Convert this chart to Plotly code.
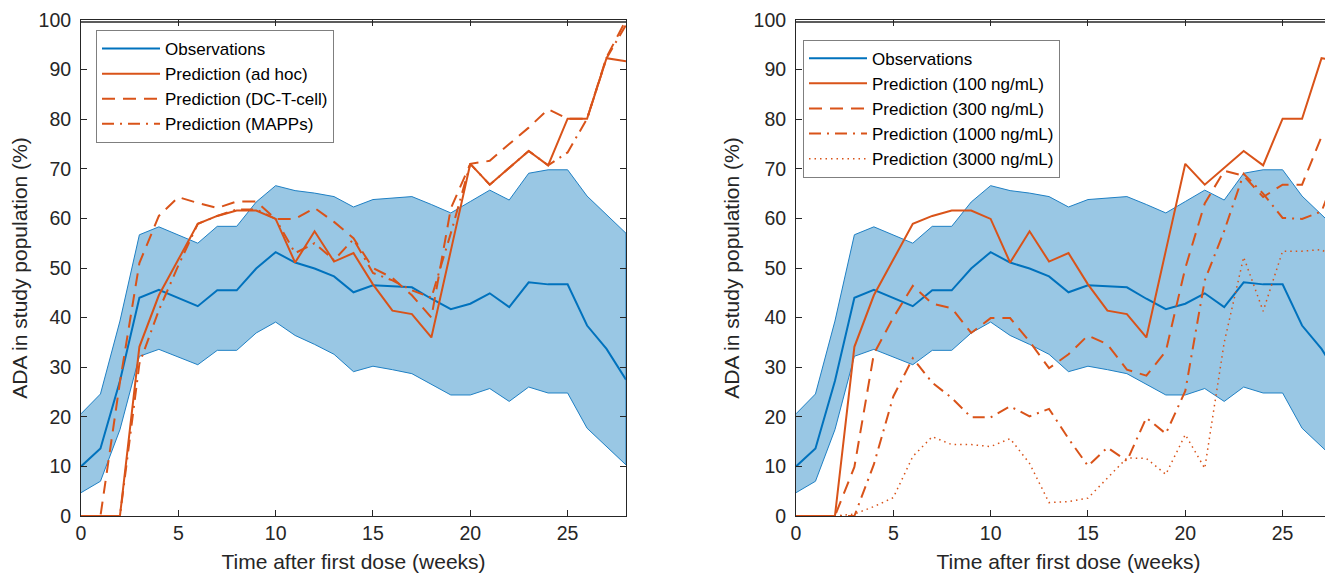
import plotly.graph_objects as go

weeks = list(range(29))

obs_median = [10, 13.6, 27.2, 44, 45.6, 44, 42.3, 45.5, 45.5, 49.9, 53.2, 51.1, 49.9, 48.3,
              45.1, 46.5, 46.3, 46.1, 43.8, 41.7, 42.8, 44.9, 42.1, 47.1, 46.7, 46.7, 38.4, 33.7, 27.5]
obs_upper = [20.6, 24.6, 39.3, 56.7, 58.3, 56.6, 55, 58.4, 58.4, 63.3, 66.6, 65.6, 65.1, 64.4,
             62.3, 63.8, 64.1, 64.4, 62.8, 61.1, 63.4, 65.7, 63.7, 69.1, 69.8, 69.8, 64.5, 60.8, 57]
obs_lower = [4.7, 7, 17.4, 32.2, 33.6, 32, 30.5, 33.4, 33.4, 36.9, 39.1, 36.4, 34.6, 32.6,
             29.1, 30.2, 29.5, 28.7, 26.5, 24.4, 24.4, 25.7, 23.1, 26, 24.8, 24.8, 17.7, 14.1, 10.3]

pred_adhoc = [0, 0, 0, 34.1, 44.5, 51.7, 58.9, 60.5, 61.6, 61.6, 59.9, 51.1, 57.4, 51.3,
              53, 46.7, 41.4, 40.7, 36, 53.5, 71, 66.8, 70.3, 73.6, 70.7, 80.1, 80.1, 92.3, 91.7]
pred_dct = [0, 0, 27, 51, 60.5, 64.3, 63.1, 62.1, 63.4, 63.4, 59.9, 59.9, 62.1, 59.3,
            56, 50, 48, 44.5, 40, 62, 71, 71.6, 75, 78.3, 82, 80.1, 80.1, 92.5, 100]
pred_mapps = [0, 0, 0, 30.7, 41.5, 50.5, 58.9, 60.5, 61.8, 61.8, 59.9, 53, 55, 51.6,
              55.8, 49, 47.5, 45.5, 44, 57, 71, 66.8, 70.3, 73.6, 70.7, 73.3, 80.1, 92.3, 99]

pred_100 = pred_adhoc
pred_300 = [0, 0, 0, 9.9, 32.7, 40, 46.4, 42.8, 41.9, 36.9, 39.9, 39.9, 35.2, 29.8,
            32.6, 36.4, 34.6, 29.5, 28.3, 33.2, 50, 63, 69.6, 68.6, 64.3, 66.8, 66.8, 76.5, 75.5]
pred_1000 = [0, 0, 0, 0, 10.4, 24.1, 31.8, 26.9, 23.8, 19.9, 19.9, 22.1, 20.1, 21.6,
             15.6, 10.1, 13.8, 11.1, 19.8, 16.6, 25.2, 47.5, 57.5, 69, 65, 60.1, 59.9, 61.4, 71.5]
pred_3000 = [0, 0, 0, 0.4, 1.9, 3.7, 12, 16, 14.4, 14.4, 14, 15.6, 10.6, 2.7,
             2.9, 3.6, 7.7, 11.7, 11.6, 8.4, 16.4, 9.6, 35, 52.2, 41.3, 53.4, 53.4, 53.7, 51.3]

x_ticks = [0, 5, 10, 15, 20, 25]
y_ticks = list(range(0, 101, 10))

left_names = ["Observations", "Prediction (ad hoc)", "Prediction (DC-T-cell)", "Prediction (MAPPs)"]
right_names = ["Observations", "Prediction (100 ng/mL)", "Prediction (300 ng/mL)",
               "Prediction (1000 ng/mL)", "Prediction (3000 ng/mL)"]

BLUE = "#0072BD"
ORANGE = "#D95319"
FILL = "rgba(153,199,228,1)"
FONT = "Liberation Sans, Arial, sans-serif"
AX = "#262626"

DASH = "13px,8px"
DASHDOT = "12px,6px,2px,6px"
DOT = "1.5px,4px"

fig = go.Figure()


def add_panel(xa, ya, legend, names, preds, styles):
    fig.add_trace(go.Scatter(
        x=weeks + weeks[::-1], y=obs_upper + obs_lower[::-1],
        fill="toself", fillcolor=FILL, mode="lines",
        line=dict(color="#1f80c4", width=1), showlegend=False, hoverinfo="skip",
        xaxis=xa, yaxis=ya))
    fig.add_trace(go.Scatter(
        x=weeks, y=obs_median, mode="lines", name=names[0],
        line=dict(color=BLUE, width=2), xaxis=xa, yaxis=ya, legend=legend))
    for nm, vals, (dash, w) in zip(names[1:], preds, styles):
        fig.add_trace(go.Scatter(
            x=weeks, y=vals, mode="lines", name=nm,
            line=dict(color=ORANGE, width=w, dash=dash),
            xaxis=xa, yaxis=ya, legend=legend))


add_panel("x", "y", "legend", left_names, [pred_adhoc, pred_dct, pred_mapps],
          [("solid", 2), (DASH, 2), (DASHDOT, 2)])
add_panel("x2", "y2", "legend2", right_names, [pred_100, pred_300, pred_1000, pred_3000],
          [("solid", 2), (DASH, 2), (DASHDOT, 2), (DOT, 1.5)])

# page body has an 8px offset; positions below are compensated for it
W, H = 1333, 575
ydom = [67 / H, 563 / H]
common_x = dict(
    tickmode="array", tickvals=x_ticks, ticks="inside", ticklen=6,
    tickcolor=AX, showline=True, linecolor=AX, linewidth=1, showgrid=False, zeroline=False,
    automargin=False, range=[0, 28], ticklabeloverflow="allow",
    tickfont=dict(family=FONT, size=19.5, color=AX),
    title=dict(text="Time after first dose (weeks)", font=dict(family=FONT, size=21, color=AX),
               standoff=10),
)
common_y = dict(
    range=[0, 100], tickmode="array", tickvals=y_ticks, ticks="inside",
    ticklen=6, tickcolor=AX, showline=True, linecolor=AX, linewidth=1, showgrid=False,
    zeroline=False, automargin=False, tickfont=dict(family=FONT, size=19.5, color=AX),
    ticklabelstandoff=5, ticklabeloverflow="allow",
    title=dict(text="ADA in study population (%)", font=dict(family=FONT, size=21, color=AX),
               standoff=8),
)

legend_common = dict(xanchor="left", yanchor="top", bgcolor="white", bordercolor="#7f7f7f",
                     borderwidth=1, font=dict(family=FONT, size=17, color="black"),
                     tracegroupgap=0, itemwidth=58)

fig.update_layout(
    width=W, height=H,
    margin=dict(l=0, r=0, t=0, b=0, autoexpand=False),
    paper_bgcolor="white", plot_bgcolor="white",
    xaxis=dict(domain=[73 / W, 618 / W], anchor="y", mirror="allticks", **common_x),
    yaxis=dict(domain=ydom, anchor="x", mirror="ticks", **common_y),
    xaxis2=dict(domain=[788 / W, 1.0], anchor="y2", mirror="allticks", **common_x),
    yaxis2=dict(domain=ydom, anchor="x2", mirror=False, **common_y),
    legend=dict(x=88 / W, y=1 - 22 / H, **legend_common),
    legend2=dict(x=795 / W, y=1 - 31.7 / H, **legend_common),
    showlegend=True,
)

# frame line along the top edge of each panel
for xr, yr in (("x domain", "y domain"), ("x2 domain", "y2 domain")):
    fig.add_shape(type="line", xref=xr, yref=yr, x0=0, x1=1, y0=0.996, y1=0.996,
                  line=dict(color=AX, width=1.5), layer="above")

fig.write_html("out.html")
